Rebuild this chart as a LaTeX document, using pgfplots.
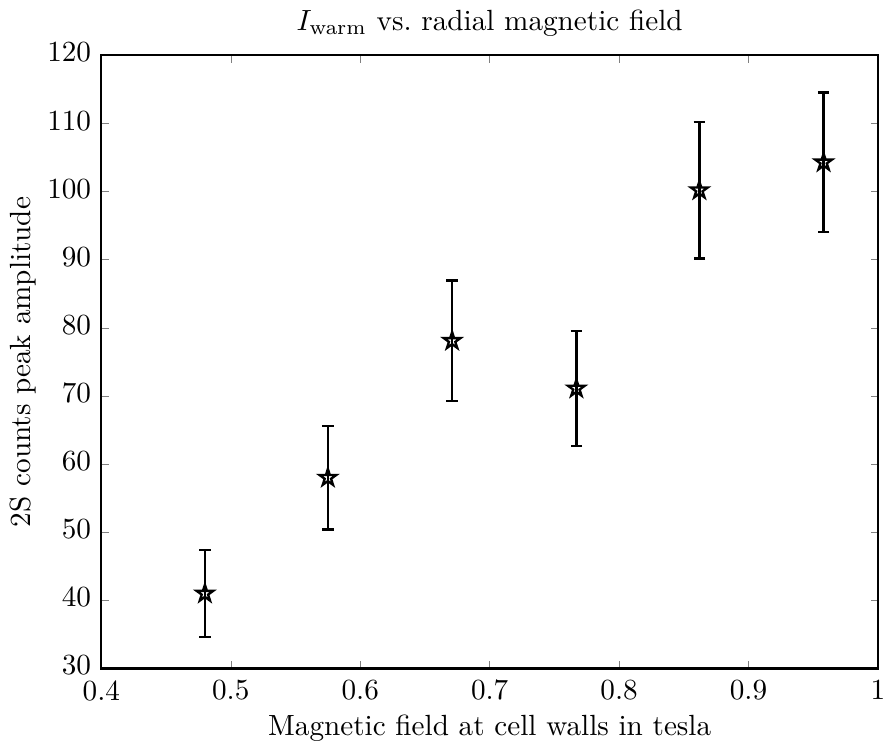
\documentclass[border=0pt]{standalone}
\usepackage{pgfplots}
\pgfplotsset{compat=1.18}
\pgfdeclareplotmark{pentastar}{%
  \pgfpathmoveto{\pgfpointpolar{90}{\pgfplotmarksize}}%
  \pgfpathlineto{\pgfpointpolar{126}{0.382\pgfplotmarksize}}%
  \pgfpathlineto{\pgfpointpolar{162}{\pgfplotmarksize}}%
  \pgfpathlineto{\pgfpointpolar{198}{0.382\pgfplotmarksize}}%
  \pgfpathlineto{\pgfpointpolar{234}{\pgfplotmarksize}}%
  \pgfpathlineto{\pgfpointpolar{270}{0.382\pgfplotmarksize}}%
  \pgfpathlineto{\pgfpointpolar{306}{\pgfplotmarksize}}%
  \pgfpathlineto{\pgfpointpolar{342}{0.382\pgfplotmarksize}}%
  \pgfpathlineto{\pgfpointpolar{18}{\pgfplotmarksize}}%
  \pgfpathlineto{\pgfpointpolar{54}{0.382\pgfplotmarksize}}%
  \pgfpathclose
  \pgfusepathqstroke
}
\begin{document}
\begin{tikzpicture}
\begin{axis}[
  scale only axis,
  width=266pt, height=210pt,
  xmin=0.4, xmax=1, ymin=30, ymax=120,
  xtick={0.4,0.5,0.6,0.7,0.8,0.9,1},
  ytick={30,40,50,60,70,80,90,100,110,120},
  xticklabels={0.4,0.5,0.6,0.7,0.8,0.9,1},
  tick align=inside,
  major tick length=2.5pt,
  axis line style={line width=0.7pt},
  xticklabel style={yshift=-0.5pt},
  yticklabel style={yshift=1pt},
  title={$I_{\mathrm{warm}}$ vs.\ radial magnetic field},
  xlabel={Magnetic field at cell walls in tesla},
  ylabel={2S counts peak amplitude},
  xlabel style={yshift=2pt},
  ylabel style={yshift=-3pt},
  title style={yshift=-3pt},
]
\addplot[
  only marks, black, line width=0.8pt,
  mark=pentastar, mark size=3pt,
  error bars/.cd, y dir=both, y explicit,
  error bar style={line width=0.8pt},
  error mark options={rotate=90, mark size=2pt, line width=0.8pt},
] coordinates {
  (0.480,41.0) +- (0,6.4)
  (0.575,58.0) +- (0,7.6)
  (0.671,78.1) +- (0,8.85)
  (0.767,71.1) +- (0,8.4)
  (0.862,100.2) +- (0,10.0)
  (0.958,104.3) +- (0,10.25)
};
\end{axis}
\end{tikzpicture}
\end{document}
